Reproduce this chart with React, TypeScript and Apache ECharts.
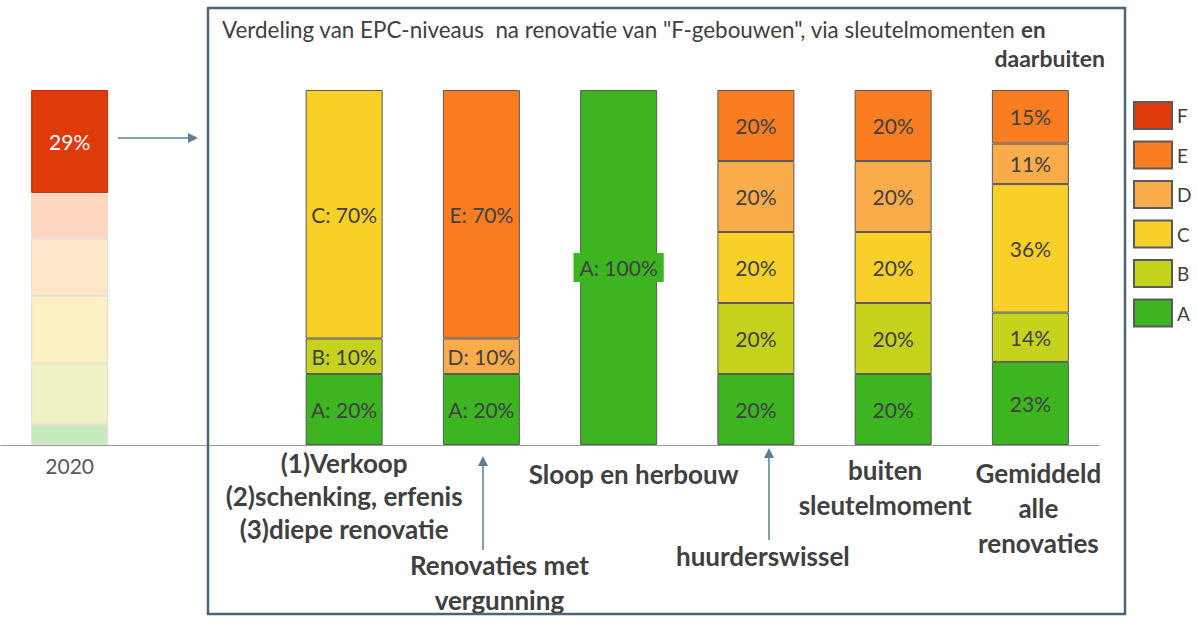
import React, { useEffect, useRef } from "react";
import * as echarts from "echarts";

// ---- data ----
const categories = [
  "2020",
  "",
  "(1)Verkoop\n(2)schenking, erfenis\n(3)diepe renovatie",
  "Renovaties met\nvergunning",
  "Sloop en herbouw",
  "huurderswissel",
  "buiten\nsleutelmoment",
  "Gemiddeld\nalle\nrenovaties",
];
const levels = ["A", "B", "C", "D", "E", "F"];
const valuesA = [6, 0, 20, 20, 100, 20, 20, 23.4];
const valuesB = [17, 0, 10, 0, 0, 20, 20, 13.9];
const valuesC = [19, 0, 70, 0, 0, 20, 20, 36.2];
const valuesD = [16, 0, 0, 10, 0, 20, 20, 11.4];
const valuesE = [13, 0, 0, 70, 0, 20, 20, 15.1];
const valuesF = [29, 0, 0, 0, 0, 0, 0, 0];
const seriesValues = [valuesA, valuesB, valuesC, valuesD, valuesE, valuesF];
const legendOrder = ["F", "E", "D", "C", "B", "A"];
const prefixedCategories = [2, 3, 4];
const baselineCategory = 0;
const boxedCategory = 4;

// ---- styles ----
const levelColors = ["#3cb521", "#c5d31d", "#f9d028", "#fbac4a", "#fb7d22", "#de3a0a"];
const fadedColors = ["#c6e9be", "#eff2c3", "#fdf0c3", "#fee6ca", "#fed6bf", "#de3a0a"];
const FONT = "Lato, 'Open Sans', sans-serif";
const TEXT = "#404040";
const ARROW = "#5a7f91";

// per-category axis label layout: top space, line height, horizontal shift
const labelTop = [3, 0, 0, 102, 12, 94, 7, 10];
const labelLine = [34, 34, 33, 35, 34, 34, 35, 35];
const labelShift = [0, 0, 0, 18, 15, 7, -8, 8];

export default function App() {
  const ref = useRef<HTMLDivElement>(null);
  useEffect(() => {
    if (!ref.current) return;
    const chart = echarts.init(ref.current, undefined, { renderer: "svg" });

    const rich: Record<string, any> = {};
    categories.forEach((_, i) => {
      rich["sp" + i] = { fontSize: 1, lineHeight: Math.max(1, labelTop[i]) };
      const s = labelShift[i];
      rich["t" + i] =
        i === baselineCategory
          ? { fontFamily: FONT, fontSize: 21, fontWeight: "normal", color: "#595959", lineHeight: labelLine[i] }
          : {
              fontFamily: FONT,
              fontSize: 26,
              fontWeight: "bold",
              color: TEXT,
              lineHeight: labelLine[i],
              padding: [0, s < 0 ? -2 * s : 0, 0, s > 0 ? 2 * s : 0],
            };
    });

    const series = levels.map((lv, li) => ({
      name: lv,
      type: "bar",
      stack: "epc",
      barWidth: 77,
      itemStyle: { color: levelColors[li], borderColor: "#5a5a5a", borderWidth: 1 },
      data: seriesValues[li].map((v, ci) => {
        if (!v) return "-";
        const faded = ci === baselineCategory;
        const item: any = {
          value: v,
          itemStyle: faded
            ? { color: fadedColors[li], borderColor: li === 5 ? "#b83208" : "#e6ddd3", borderWidth: 1 }
            : undefined,
          label: {
            show: !faded || li === 5,
            color: faded ? "#ffffff" : TEXT,
            fontFamily: FONT,
            fontSize: 21,
            formatter: () =>
              (prefixedCategories.includes(ci) ? lv + ": " : "") + Math.round(v) + "%",
          },
        };
        if (ci === boxedCategory) {
          item.label.backgroundColor = levelColors[li];
          item.label.padding = [4, 6, 4, 6];
        }
        return item;
      }),
      label: { show: true, position: "inside" },
    }));

    chart.setOption({
      animation: false,
      textStyle: { fontFamily: FONT },
      title: [
        {
          text: "{n|Verdeling van EPC-niveaus  na renovatie van \"F-gebouwen\", via sleutelmomenten} {b|en}",
          left: 222,
          top: 18,
          padding: 0,
          textStyle: {
            fontWeight: "normal",
            rich: {
              n: { fontFamily: FONT, fontSize: 22.4, color: TEXT, fontWeight: "normal" },
              b: { fontFamily: FONT, fontSize: 22.4, color: TEXT, fontWeight: "bold" },
            },
          },
        },
        {
          text: "daarbuiten",
          right: 93,
          top: 46,
          padding: 0,
          textStyle: { fontFamily: FONT, fontSize: 23, color: TEXT, fontWeight: "bold" },
        },
      ],
      legend: {
        data: legendOrder,
        orient: "vertical",
        left: 1133,
        top: 101,
        padding: 0,
        itemWidth: 38,
        itemHeight: 27,
        itemGap: 10.5,
        icon: "rect",
        textStyle: { fontFamily: FONT, fontSize: 19, color: TEXT },
      },
      grid: { left: 1, right: 99, top: 90, bottom: 172, containLabel: false },
      xAxis: {
        type: "category",
        data: categories,
        axisTick: { show: false },
        axisLine: { lineStyle: { color: "#9a9a9a", width: 1 } },
        axisLabel: {
          interval: 0,
          margin: 0,
          hideOverlap: false,
          formatter: (value: string, index: number) => {
            const lines = value ? value.split("\n") : [" "];
            return ["{sp" + index + "| }", ...lines.map((l) => "{t" + index + "|" + l + "}")].join("\n");
          },
          rich,
        },
      },
      yAxis: { type: "value", min: 0, max: 100, show: false },
      series,
      graphic: [
        {
          type: "rect",
          shape: { x: 208, y: 8, width: 917, height: 606 },
          style: { fill: "none", stroke: "#4b6575", lineWidth: 2.5 },
          z: 10,
        },
        { type: "line", shape: { x1: 118, y1: 138, x2: 190, y2: 138 }, style: { stroke: ARROW, lineWidth: 1.5 } },
        { type: "polygon", shape: { points: [[188, 133], [198, 138], [188, 143]] }, style: { fill: ARROW } },
        { type: "line", shape: { x1: 483, y1: 550, x2: 483, y2: 464 }, style: { stroke: ARROW, lineWidth: 1.5 } },
        { type: "polygon", shape: { points: [[478, 466], [483, 456], [488, 466]] }, style: { fill: ARROW } },
        { type: "line", shape: { x1: 769, y1: 540, x2: 769, y2: 456 }, style: { stroke: ARROW, lineWidth: 1.5 } },
        { type: "polygon", shape: { points: [[764, 458], [769, 448], [774, 458]] }, style: { fill: ARROW } },
      ],
    });
    return () => chart.dispose();
  }, []);
  return <div ref={ref} style={{ width: 1198, height: 617, position: "absolute", left: 0, top: 0 }} />;
}
